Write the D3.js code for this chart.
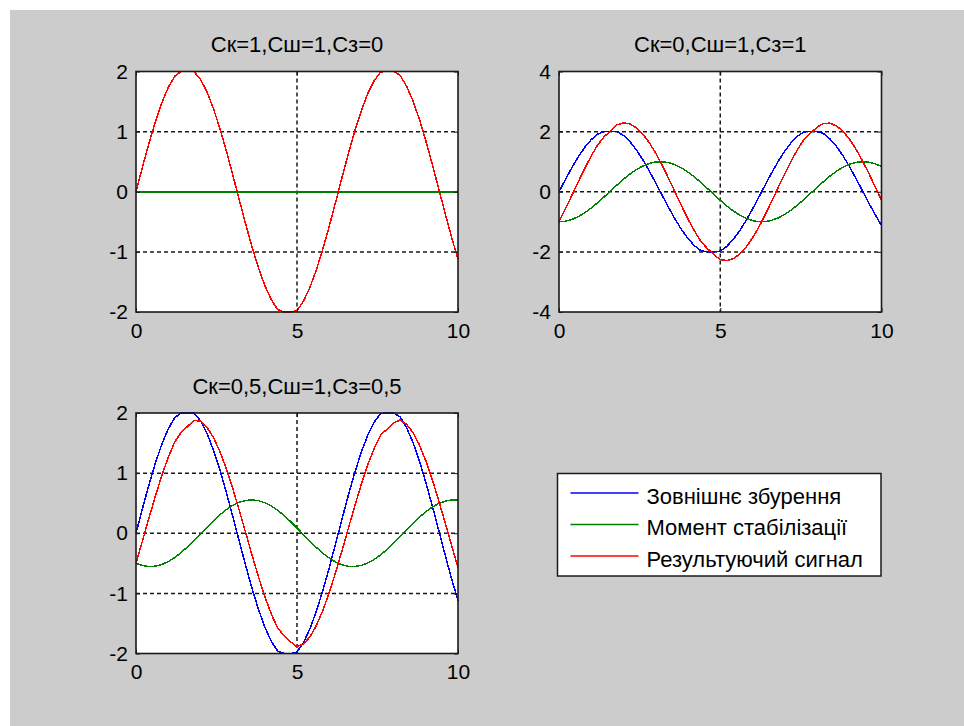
<!DOCTYPE html>
<html>
<head>
<meta charset="utf-8">
<script src="https://cdn.jsdelivr.net/npm/d3@7"></script>
<style>
  body { margin: 0; background: #ffffff; }
  svg { display: block; font-family: "Liberation Sans", Arial, sans-serif; }
</style>
</head>
<body>
<svg width="964" height="726"></svg>
<script>
// Time samples, shared by every curve.
const time = [0, 0.2, 0.4, 0.6, 0.8, 1, 1.2, 1.4, 1.6, 1.8,
  2, 2.2, 2.4, 2.6, 2.8, 3, 3.2, 3.4, 3.6, 3.8,
  4, 4.2, 4.4, 4.6, 4.8, 5, 5.2, 5.4, 5.6, 5.8,
  6, 6.2, 6.4, 6.6, 6.8, 7, 7.2, 7.4, 7.6, 7.8,
  8, 8.2, 8.4, 8.6, 8.8, 9, 9.2, 9.4, 9.6, 9.8, 10];

// External disturbance (blue), same in all three panels.
const disturbance = [0, 0.409, 0.802, 1.163, 1.478, 1.733, 1.920, 2, 2, 2,
  1.873, 1.666, 1.391, 1.062, 0.690, 0.291, -0.120, -0.526, -0.912, -1.260,
  -1.559, -1.795, -1.960, -2, -2, -1.975, -1.820, -1.592, -1.300, -0.957,
  -0.576, -0.171, 0.240, 0.642, 1.018, 1.353, 1.635, 1.851, 1.994, 2,
  2, 1.938, 1.760, 1.513, 1.206, 0.849, 0.459, 0.051, -0.359, -0.755, -1.121];

// Panel 1: Ск=1, Сш=1, Сз=0
const momentA = [0, 0, 0, 0, 0, 0, 0, 0, 0, 0,
  0, 0, 0, 0, 0, 0, 0, 0, 0, 0,
  0, 0, 0, 0, 0, 0, 0, 0, 0, 0,
  0, 0, 0, 0, 0, 0, 0, 0, 0, 0,
  0, 0, 0, 0, 0, 0, 0, 0, 0, 0, 0];
const resultA = [0, 0.409, 0.802, 1.163, 1.478, 1.733, 1.920, 2, 2, 2,
  1.873, 1.666, 1.391, 1.062, 0.690, 0.291, -0.120, -0.526, -0.912, -1.260,
  -1.559, -1.795, -1.960, -2, -2, -1.975, -1.820, -1.592, -1.300, -0.957,
  -0.576, -0.171, 0.240, 0.642, 1.018, 1.353, 1.635, 1.851, 1.994, 2,
  2, 1.938, 1.760, 1.513, 1.206, 0.849, 0.459, 0.051, -0.359, -0.755, -1.121];

// Panel 2: Ск=0, Сш=1, Сз=1
const momentB = [-1, -0.980, -0.921, -0.825, -0.697, -0.540, -0.362, -0.170, 0.029, 0.227,
  0.416, 0.589, 0.737, 0.857, 0.942, 0.990, 0.998, 0.967, 0.897, 0.791,
  0.654, 0.490, 0.307, 0.112, -0.088, -0.284, -0.469, -0.635, -0.776, -0.886,
  -0.960, -0.997, -0.993, -0.950, -0.869, -0.754, -0.608, -0.439, -0.251, -0.054,
  0.146, 0.339, 0.519, 0.679, 0.811, 0.911, 0.975, 1.000, 0.985, 0.930, 0.839];
const resultB = [-1, -0.571, -0.119, 0.338, 0.781, 1.193, 1.558, 1.830, 2.029, 2.227,
  2.289, 2.255, 2.128, 1.919, 1.632, 1.281, 0.878, 0.441, -0.015, -0.469,
  -0.905, -1.305, -1.653, -1.888, -2.088, -2.259, -2.289, -2.227, -2.076, -1.843,
  -1.536, -1.168, -0.753, -0.308, 0.149, 0.599, 1.027, 1.412, 1.743, 1.946,
  2.146, 2.277, 2.279, 2.192, 2.017, 1.760, 1.434, 1.051, 0.626, 0.175, -0.282];

// Panel 3: Ск=0,5, Сш=1, Сз=0,5
const momentC = [-0.5, -0.538, -0.554, -0.548, -0.521, -0.472, -0.405, -0.322, -0.225, -0.120,
  -0.010, 0.100, 0.207, 0.305, 0.391, 0.461, 0.513, 0.545, 0.555, 0.542,
  0.508, 0.454, 0.382, 0.295, 0.195, 0.088, -0.022, -0.132, -0.236, -0.331,
  -0.413, -0.478, -0.525, -0.550, -0.553, -0.535, -0.495, -0.435, -0.358, -0.267,
  -0.165, -0.056, 0.055, 0.163, 0.265, 0.357, 0.434, 0.494, 0.534, 0.553, 0.550];
const resultC = [-0.5, -0.129, 0.248, 0.615, 0.957, 1.261, 1.515, 1.678, 1.775, 1.880,
  1.863, 1.766, 1.598, 1.367, 1.081, 0.752, 0.393, 0.019, -0.357, -0.718,
  -1.051, -1.341, -1.578, -1.705, -1.805, -1.887, -1.842, -1.724, -1.536, -1.288,
  -0.989, -0.649, -0.285, 0.092, 0.465, 0.818, 1.140, 1.416, 1.636, 1.733,
  1.835, 1.882, 1.815, 1.676, 1.471, 1.206, 0.893, 0.545, 0.175, -0.202, -0.571];

const titles = ["Ск=1,Сш=1,Сз=0", "Ск=0,Сш=1,Сз=1", "Ск=0,5,Сш=1,Сз=0,5"];
const xTicks = [0, 5, 10];
const yTicksSmall = [-2, -1, 0, 1, 2];
const yTicksLarge = [-4, -2, 0, 2, 4];
const legendLabels = ["Зовнішнє збурення", "Момент стабілізації", "Результуючий сигнал"];
const colors = ["#0000ff", "#008000", "#ff0000"];

function drawPanel(svg, box, title, yTicks, series) {
  const g = svg.append("g")
    .attr("transform", "translate(" + box.left + "," + box.top + ")");

  const x = d3.scaleLinear().domain([0, 10]).range([0, box.width]);
  const y = d3.scaleLinear().domain(d3.extent(yTicks)).range([box.height, 0]);

  g.append("rect")
    .attr("width", box.width)
    .attr("height", box.height)
    .attr("fill", "#ffffff");

  // Dashed grid at inner ticks only (outer ones sit on the box).
  g.selectAll(".hgrid")
    .data(yTicks.slice(1, -1))
    .enter()
    .append("line")
    .attr("x1", 0).attr("x2", box.width)
    .attr("y1", d => y(d)).attr("y2", d => y(d))
    .attr("stroke", "#1a1a1a")
    .attr("stroke-width", 1.5)
    .attr("stroke-dasharray", "4,3");

  g.selectAll(".vgrid")
    .data(xTicks.slice(1, -1))
    .enter()
    .append("line")
    .attr("y1", 0).attr("y2", box.height)
    .attr("x1", d => x(d)).attr("x2", d => x(d))
    .attr("stroke", "#1a1a1a")
    .attr("stroke-width", 1.5)
    .attr("stroke-dasharray", "4,3");

  const line = d3.line()
    .x((d, i) => x(time[i]))
    .y(d => y(d));

  // MATLAB draws aliased lines, which also keeps the blue hidden under red.
  series.forEach((values, i) => {
    g.append("path")
      .datum(values)
      .attr("d", line)
      .attr("fill", "none")
      .attr("stroke", colors[i])
      .attr("stroke-width", 1.5)
      .attr("shape-rendering", "crispEdges");
  });

  // Axes: ticks pointing inward on all four sides, labels only left/bottom.
  const fmt = d => String(d);
  const axes = [
    {axis: d3.axisLeft(y).tickValues(yTicks).tickFormat(fmt).tickPadding(8), t: null},
    {axis: d3.axisBottom(x).tickValues(xTicks).tickFormat(fmt).tickPadding(11), t: "translate(0," + box.height + ")"},
    {axis: d3.axisRight(y).tickValues(yTicks).tickFormat(""), t: "translate(" + box.width + ",0)"},
    {axis: d3.axisTop(x).tickValues(xTicks).tickFormat(""), t: null}
  ];
  axes.forEach(a => {
    const ag = g.append("g").call(a.axis.tickSize(-4));
    if (a.t) ag.attr("transform", a.t);
    ag.select(".domain").remove();
    ag.selectAll("line").attr("stroke", "#1a1a1a");
    ag.selectAll("text")
      .attr("fill", "#000000")
      .style("font-size", "21px")
      .style("font-family", "'Liberation Sans', Arial, sans-serif");
  });

  g.append("rect")
    .attr("width", box.width)
    .attr("height", box.height)
    .attr("fill", "none")
    .attr("stroke", "#1a1a1a")
    .attr("stroke-width", 1.6);

  g.append("text")
    .attr("x", box.width / 2)
    .attr("y", -19.5)
    .attr("text-anchor", "middle")
    .style("font-size", "22px")
    .attr("fill", "#000000")
    .text(title);
}

function drawLegend(svg, box) {
  const g = svg.append("g")
    .attr("transform", "translate(" + box.left + "," + box.top + ")");

  g.append("rect")
    .attr("width", box.width)
    .attr("height", box.height)
    .attr("fill", "#ffffff")
    .attr("stroke", "#1a1a1a")
    .attr("stroke-width", 1.5);

  const rows = g.selectAll(".entry")
    .data(legendLabels)
    .enter()
    .append("g")
    .attr("transform", (d, i) => "translate(0," + (19.5 + i * 31.5) + ")");

  rows.append("line")
    .attr("x1", 13).attr("x2", 81)
    .attr("stroke", (d, i) => colors[i])
    .attr("stroke-width", 1.5);

  rows.append("text")
    .attr("x", 89)
    .attr("y", 10.5)
    .style("font-size", "22px")
    .attr("fill", "#000000")
    .text(d => d);
}

window.addEventListener("load", function() {
  const svg = d3.select("svg");

  svg.append("rect")
    .attr("x", 10).attr("y", 10)
    .attr("width", 954).attr("height", 716)
    .attr("fill", "#cccccc");

  drawPanel(svg, {left: 136, top: 71.5, width: 322, height: 240.5},
    titles[0], yTicksSmall, [disturbance, momentA, resultA]);
  drawPanel(svg, {left: 559, top: 71.5, width: 322.5, height: 240.5},
    titles[1], yTicksLarge, [disturbance, momentB, resultB]);
  drawPanel(svg, {left: 136, top: 413, width: 322, height: 240.5},
    titles[2], yTicksSmall, [disturbance, momentC, resultC]);

  drawLegend(svg, {left: 557.5, top: 473.5, width: 323.5, height: 102.5});
});
</script>
</body>
</html>
